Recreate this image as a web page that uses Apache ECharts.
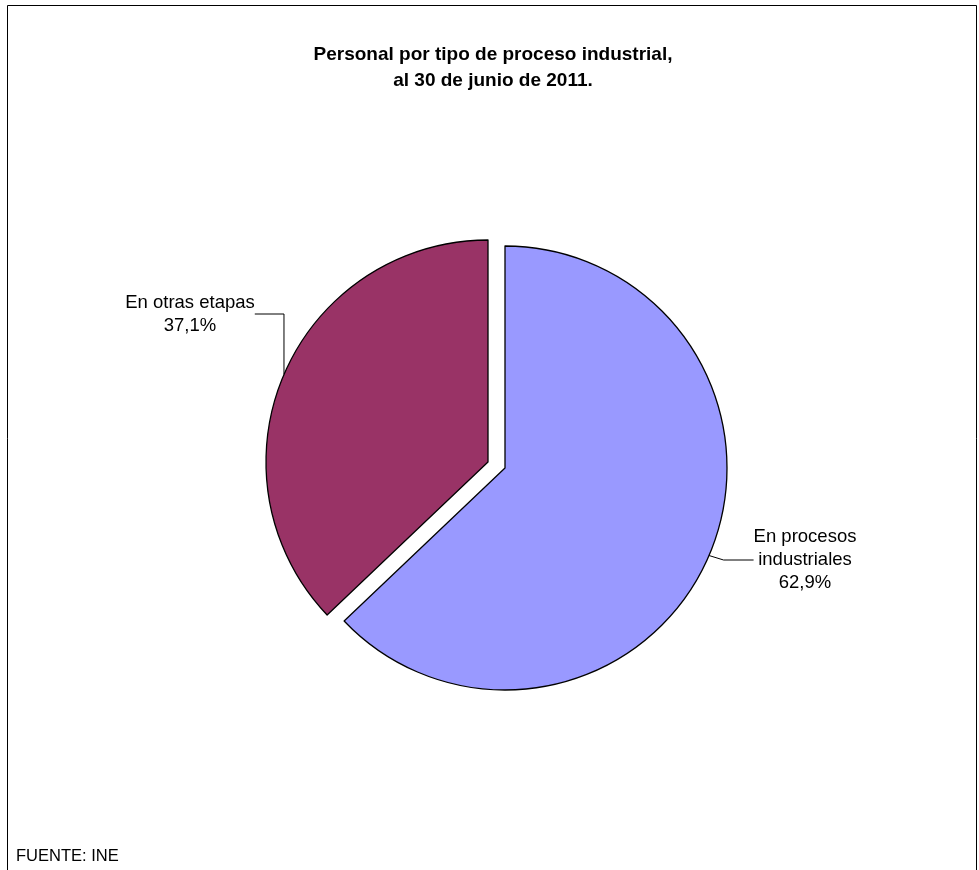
<!DOCTYPE html>
<html>
<head>
<meta charset="utf-8">
<script src="https://cdn.jsdelivr.net/npm/echarts@6/dist/echarts.min.js"></script>
<style>
html,body{margin:0;padding:0;background:#fff;}
#chart{width:979px;height:870px;}
</style>
</head>
<body>
<div id="chart"></div>
<script>
var categories = ['En procesos\nindustriales', 'En otras etapas'];
var values = [62.9, 37.1];
var colors = ['#9999FF', '#993366'];
var explode = [0, 1];
var titleText = 'Personal por tipo de proceso industrial,\nal 30 de junio de 2011.';
var sourceText = 'FUENTE: INE';

var chart = echarts.init(document.getElementById('chart'));
var labelPos = [[805, 560], [190, 314]];
var baseCenter = [505, 468];
var offsetCenter = [488, 462];

function makeSeries(exploded) {
  return {
    type: 'pie',
    center: exploded ? offsetCenter : baseCenter,
    radius: 222,
    startAngle: 90,
    clockwise: true,
    silent: true,
    data: categories.map(function (c, i) {
      var mine = (explode[i] === 1) === exploded;
      return {
        name: c, value: values[i],
        itemStyle: mine ? {color: colors[i], borderColor: '#000', borderWidth: 1.3} : {color: 'rgba(0,0,0,0)', borderWidth: 0},
        label: {show: mine},
        labelLine: {show: mine}
      };
    }),
    emphasis: {disabled: true},
    label: {
      position: 'outside',
      formatter: function (p) { return p.name + '\n' + p.value.toFixed(1).replace('.', ',') + '%'; },
      fontFamily: 'Liberation Sans, Arial',
      fontSize: 18.5,
      lineHeight: 23,
      color: '#000'
    },
    labelLine: {lineStyle: {color: '#000', width: 1}},
    labelLayout: function (p) {
      return {x: labelPos[p.dataIndex][0], y: labelPos[p.dataIndex][1], align: 'center', verticalAlign: 'middle'};
    }
  };
}

chart.setOption({
  backgroundColor: '#fff',
  animation: false,
  title: {
    text: titleText,
    left: 488,
    textAlign: 'center',
    top: 37,
    textStyle: {fontFamily: 'Liberation Sans, Arial', fontWeight: 'bold', fontSize: 19, lineHeight: 26, color: '#000'}
  },
  graphic: [
    {type: 'rect', shape: {x: 7.5, y: 5.5, width: 969, height: 900}, style: {fill: 'none', stroke: '#000', lineWidth: 1}, silent: true},
    {type: 'text', left: 16, top: 848, style: {text: sourceText, font: '16.5px "Liberation Sans", Arial', fill: '#000'}}
  ],
  series: [makeSeries(false), makeSeries(true)]
});
</script>
</body>
</html>
